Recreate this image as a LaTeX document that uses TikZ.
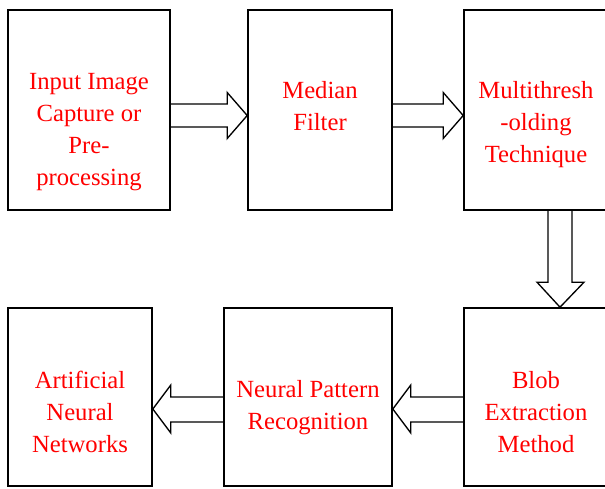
\documentclass[tikz,border=0pt]{standalone}
\usepackage{fontspec}
\setmainfont{Liberation Serif}
\usetikzlibrary{calc}

\begin{document}
\begin{tikzpicture}[x=0.75pt,y=-0.75pt,
            box/.style={draw,line width=1.2pt,inner sep=0pt},
            txt/.style={text=red,align=center,font=\fontsize{18.5}{24}\selectfont},
            blockarrow/.style={draw,line width=1pt,line join=miter}
            ]
            \useasboundingbox (0,0) rectangle (605,488);

            \node[box,minimum width=121.5pt,minimum height=150pt] (capture) at (89,110) {};
            \node[box,minimum width=108pt,minimum height=150pt] (median) at (320,110) {};
            \node[box,minimum width=108pt,minimum height=150pt] (thresh) at (536,110) {};

            \node[box,minimum width=108pt,minimum height=133.5pt] (blob) at (536,397) {};
            \node[box,minimum width=126pt,minimum height=133.5pt] (pattern) at (308,397) {};
            \node[box,minimum width=108pt,minimum height=133.5pt] (ann) at (80,397) {};

            \node[txt] (captureText) at (89,132) {Input Image\\Capture or\\Pre-\\processing};
            \node[txt] (medianText) at (320,106.5) {Median\\Filter};
            \node[txt] (threshText) at (536,125) {Multithresh\\-olding\\Technique};
            \node[txt] (blobText) at (536,412) {Blob\\Extraction\\Method};
            \node[txt] (patternText) at (308,408) {Neural Pattern\\Recognition};
            \node[txt] (annText) at (80,412) {Artificial\\Neural\\Networks};

            % block arrows between the boxes
            \draw[blockarrow] ($(capture.east)+(0,-6)$) -- ($(median.west)+(-20,-6)$) -- ++(0,-11.5)
                -- ($(median.west)+(0,5.5)$) -- ($(median.west)+(-20,28.5)$) -- ++(0,-11.5) -- ($(capture.east)+(0,17)$);
            \draw[blockarrow] ($(median.east)+(0,-6)$) -- ($(thresh.west)+(-20,-6)$) -- ++(0,-11.5)
                -- ($(thresh.west)+(0,5.5)$) -- ($(thresh.west)+(-20,28.5)$) -- ++(0,-11.5) -- ($(median.east)+(0,17)$);

            \draw[blockarrow] ($(thresh.south)+(12,0)$) -- ($(blob.north)+(12,-25)$) -- ++(-11,0)
                -- ($(blob.north)+(24,0)$) -- ($(blob.north)+(48,-25)$) -- ++(-12,0) -- ($(thresh.south)+(36,0)$);

            \draw[blockarrow] (blob.west) -- ($(pattern.east)+(18,0)$) -- ++(0,-12)
                -- ($(pattern.east)+(0,12)$) -- ($(pattern.east)+(18,36)$) -- ++(0,-11) -- ($(blob.west)+(0,25)$);
            \draw[blockarrow] (pattern.west) -- ($(ann.east)+(18,0)$) -- ++(0,-12)
                -- ($(ann.east)+(0,12)$) -- ($(ann.east)+(18,36)$) -- ++(0,-11) -- ($(pattern.west)+(0,25)$);

        \end{tikzpicture}
\end{document}
